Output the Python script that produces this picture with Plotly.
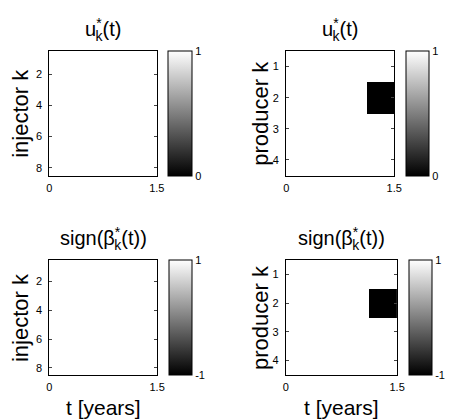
import plotly.graph_objects as go

# ---- data ----
t_edges = [0, 0.375, 0.75, 1.125, 1.5]          # control interval edges [years]
injector_k = [1, 2, 3, 4, 5, 6, 7, 8]
producer_k = [1, 2, 3, 4]
u_injector = [[1, 1, 1, 1] for _ in injector_k]
u_producer = [[1, 1, 1, 1],
              [1, 1, 1, 0],
              [1, 1, 1, 1],
              [1, 1, 1, 1]]
sign_injector = [[1, 1, 1, 1] for _ in injector_k]
sign_producer = [[1, 1, 1, 1],
                 [1, 1, 1, -1],
                 [1, 1, 1, 1],
                 [1, 1, 1, 1]]
x_ticks = [0, 1.5]
x_ticktext = ["0", "1.5"]
inj_ticks = [2, 4, 6, 8]
prod_ticks = [1, 2, 3, 4]

W, H = 449, 419
FONT = "Liberation Sans, Arial, Helvetica, sans-serif"

STAR = "<sup><span style='letter-spacing:-6px'>*</span></sup>"
TITLE_U = "u" + STAR + "<sub>k</sub>(t)"
TITLE_S = "sign(β" + STAR + "<sub>k</sub>(t))"


def px(x):
    return x / W


def py(y):
    return 1 - y / H


panels = [
    dict(z=u_injector, rows=injector_k, yt=inj_ticks, zmin=0, zmax=1,
         box=(47.5, 157.7, 51, 175.5), cb=(169.5, 193), ylab="injector k", ylx=18,
         title=TITLE_U, xlab=False),
    dict(z=u_producer, rows=producer_k, yt=prod_ticks, zmin=0, zmax=1,
         box=(290.3, 401, 51, 175.5), cb=(413, 435.5), ylab="producer k", ylx=264,
         title=TITLE_U, xlab=False),
    dict(z=sign_injector, rows=injector_k, yt=inj_ticks, zmin=-1, zmax=1,
         box=(47.5, 158, 260, 375), cb=(170, 193), ylab="injector k", ylx=18,
         title=TITLE_S, xlab=True),
    dict(z=sign_producer, rows=producer_k, yt=prod_ticks, zmin=-1, zmax=1,
         box=(290, 404, 260, 375), cb=(416, 439), ylab="producer k", ylx=264,
         title=TITLE_S, xlab=True),
]

fig = go.Figure()
annotations = []
for i, p in enumerate(panels):
    n = "" if i == 0 else str(i + 1)
    l, r, t, b = p["box"]
    cl, cr = p["cb"]
    fig.add_trace(go.Heatmap(
        x=t_edges, y=p["rows"], z=p["z"], zmin=p["zmin"], zmax=p["zmax"],
        colorscale=[[0, "black"], [1, "white"]], zsmooth=False,
        xaxis="x" + n, yaxis="y" + n, hoverinfo="skip",
        colorbar=dict(
            x=px(cl), xanchor="left", y=py((t + b) / 2), yanchor="middle",
            thickness=cr - cl, thicknessmode="pixels",
            len=b - t, lenmode="pixels", xpad=0, ypad=0,
            outlinewidth=1, outlinecolor="black",
            tickvals=[p["zmin"], p["zmax"]], ticktext=[str(p["zmin"]), str(p["zmax"])],
            ticks="", tickfont=dict(size=11, color="black", family=FONT),
        ),
    ))
    fig.layout["xaxis" + n] = dict(
        domain=[px(l), px(r)], range=[0, 1.5], anchor="y" + n,
        tickvals=x_ticks, ticktext=x_ticktext, ticks="inside", ticklen=3,
        showline=True, mirror="ticks", linecolor="black", linewidth=1,
        showgrid=False, zeroline=False, ticklabelstandoff=2,
        tickfont=dict(size=11, color="black", family=FONT),
    )
    fig.layout["yaxis" + n] = dict(
        domain=[py(b), py(t)], range=[max(p["rows"]) + 0.5, 0.5], anchor="x" + n,
        tickvals=p["yt"], ticks="inside", ticklen=3,
        showline=True, mirror="ticks", linecolor="black", linewidth=1,
        showgrid=False, zeroline=False, ticklabelstandoff=4,
        tickfont=dict(size=11, color="black", family=FONT),
    )
    cx = (l + r) / 2
    annotations.append(dict(
        x=px(cx), y=py(t - 5), xref="paper", yref="paper", xanchor="center", yanchor="bottom",
        text=p["title"], showarrow=False, font=dict(size=20, color="black", family=FONT)))
    annotations.append(dict(
        x=px(p["ylx"]), y=py((t + b) / 2), xref="paper", yref="paper", xanchor="center",
        yanchor="middle", text=p["ylab"], textangle=-90, showarrow=False,
        font=dict(size=22, color="black", family=FONT)))
    if p["xlab"]:
        annotations.append(dict(
            x=px(cx), y=py(407), xref="paper", yref="paper", xanchor="center",
            yanchor="middle", text="t [years]", showarrow=False,
            font=dict(size=21, color="black", family=FONT)))

fig.update_layout(
    width=W, height=H, margin=dict(l=0, r=0, t=0, b=0),
    paper_bgcolor="white", plot_bgcolor="white",
    annotations=annotations, showlegend=False,
    font=dict(family=FONT, color="black"),
)

fig.write_html(
    "out.html",
    config={"displayModeBar": False, "staticPlot": True},
    post_script="document.body.style.margin='0';document.body.style.overflow='hidden';",
)
